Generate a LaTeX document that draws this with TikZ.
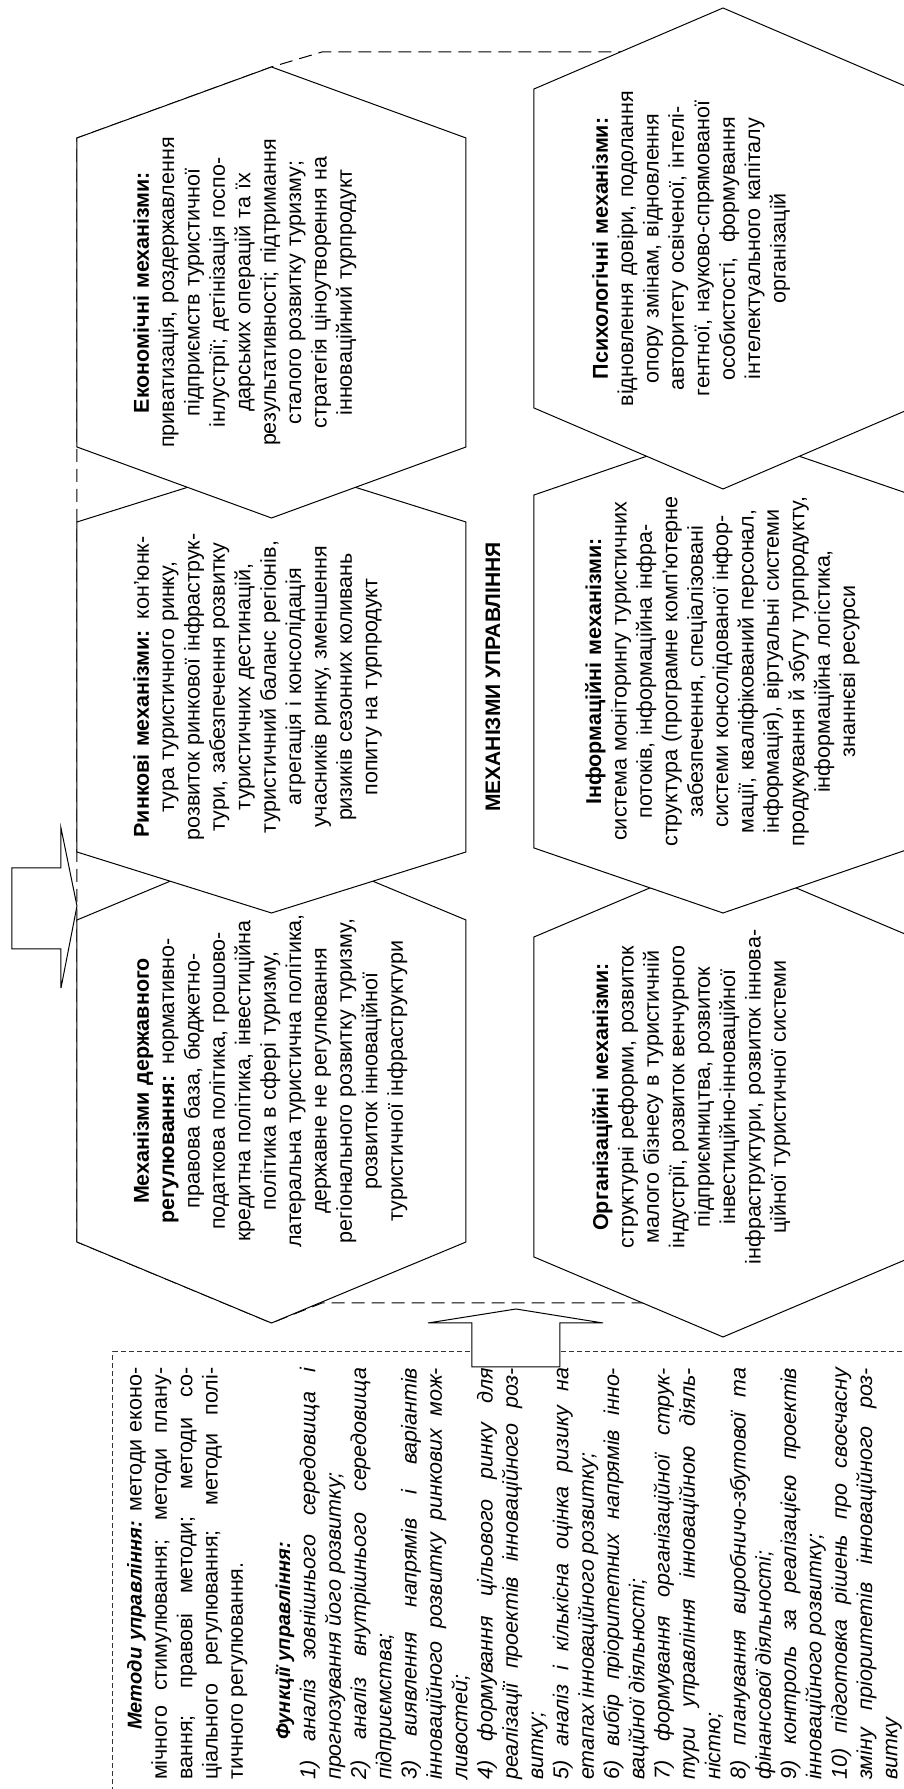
\documentclass[tikz,border=0pt]{standalone}
\usepackage{fontspec}
\setmainfont{Liberation Sans}
\hyphenpenalty=10000
\hbadness=10000

\tikzset{
	hexline/.style={draw=black, fill=white, line width=1pt},
	hexframe/.style={draw=black, line width=1pt, dash pattern=on 13pt off 7pt},
	funcframe/.style={draw=black!80, line width=1pt, dash pattern=on 5pt off 3pt},
	blockarrow/.style={draw=black, fill=white, line width=1pt},
	hextext/.style={text width=400pt, align=center, anchor=north, inner sep=0pt, font=\fontsize{21.5}{25.4}\selectfont},
	functext/.style={text width=412pt, align=justify, anchor=north west, inner sep=0pt, font=\fontsize{21.5}{25.3}\selectfont},
	titletext/.style={inner sep=0pt, font=\fontsize{21}{25}\selectfont\bfseries}
}
% centre x, centre y, half top edge, half width, half height
\newcommand{\hexcell}[5]{\filldraw[hexline] ({#1-#4},{#2}) -- ({#1-#3},{#2+#5}) -- ({#1+#3},{#2+#5}) -- ({#1+#4},{#2}) -- ({#1+#3},{#2-#5}) -- ({#1-#3},{#2-#5}) -- cycle;}
\newcommand{\boxhead}[1]{{\fontsize{20}{25.3}\selectfont\bfseries\itshape #1}}

\begin{document}
\begin{tikzpicture}[x=1pt, y=1pt, rotate=90, transform shape]
		\useasboundingbox (0,0) rectangle (1789,904);
		\clip (0,0) rectangle (1789,904);
		% Rahmen um die Mechanismen
		\draw [hexframe] (547,827) -- (1651,827) -- (1722,632.5) -- (1737,582) -- (1737,240) -- (1663,-5) -- (560,-5) -- (486,240) -- (486,582) -- (466,632.5) -- cycle;
		% obere Reihe
		\hexcell{708}{632.5}{161}{242}{194.5}
		\hexcell{1102}{632.5}{165}{226}{194.5}
		\hexcell{1496.5}{632.5}{154.5}{225.5}{194.5}
		% untere Reihe
		\hexcell{692}{181}{160}{240}{189}
		\hexcell{1117.5}{181}{176.5}{241.5}{189}
		\hexcell{1540.5}{181}{159.5}{240.5}{189}
		% Texte
		\node [hextext] (state) at (708,771) {\textbf{Механізми державного}\\
			\textbf{регулювання:} нормативно-\\
			правова база, бюджетно-\\
			податкова політика, грошово-\\
			кредитна політика, інвестиційна\\
			політика в сфері туризму,\\
			латеральна туристична політика,\\
			державне не регулювання\\
			регіонального розвитку туризму,\\
			розвиток інноваційної\\
			туристичної інфраструктури};
		\node [hextext] (market) at (1102,771) {\textbf{Ринкові механізми:} кон’юнк-\\
			тура туристичного ринку,\\
			розвиток ринкової інфраструк-\\
			тури, забезпечення розвитку\\
			туристичних дестинацій,\\
			туристичний баланс регіонів,\\
			агрегація і консолідація\\
			учасників ринку, зменшення\\
			ризиків сезонних коливань\\
			попиту на турпродукт};
		\node [hextext] (econ) at (1496.5,771) {\textbf{Економічні механізми:}\\
			приватизація, роздержавлення\\
			підприємств туристичної\\
			інлустрії; детінізація госпо-\\
			дарських операцій та їх\\
			результативності; підтримання\\
			сталого розвитку туризму;\\
			стратегія ціноутворення на\\
			інноваційний турпродукт};
		\node [hextext] (org) at (692,312) {\textbf{Організаційні механізми:}\\
			структурні реформи, розвиток\\
			малого бізнесу в туристичній\\
			індустрії, розвиток венчурного\\
			підприємництва, розвиток\\
			інвестиційно-інноваційної\\
			інфраструктури, розвиток іннова-\\
			ційної туристичної системи};
		\node [hextext] (info) at (1117.5,319) {\textbf{Інформаційні механізми:}\\
			система моніторингу туристичних\\
			потоків, інформаційна інфра-\\
			структура (програмне комп’ютерне\\
			забезпечення, спеціалізовані\\
			системи консолідованої інфор-\\
			мації, кваліфікований персонал,\\
			інформація), віртуальні системи\\
			продукування й збуту турпродукту,\\
			інформаційна логістика,\\
			знаннєві ресурси};
		\node [hextext] (psych) at (1540.5,312) {\textbf{Психологічні механізми:}\\
			відновлення довіри, подолання\\
			опору змінам, відновлення\\
			авторитету освіченої, інтелі-\\
			гентної, науково-спрямованої\\
			особистості,\ \ формування\\
			інтелектуального капіталу\\
			організацій};
		\node [titletext] (mech) at (1112,411) {МЕХАНІЗМИ УПРАВЛІННЯ};
		% Methoden und Funktionen
		\draw [funcframe] (-10,-10) rectangle (437,791);
		\node [functext] (methods) at (9,777) {\setlength{\parindent}{0pt}%
			\makebox[\linewidth][s]{\hspace*{50pt}\boxhead{Методи} \boxhead{управління:} методи еконо-}\par
			мічного стимулювання; методи плану-\linebreak
			вання; правові методи; методи со-\linebreak
			ціального регулювання; методи полі-\linebreak
			тичного регулювання.\par
			\vspace{22pt}
			\hspace*{40pt}\boxhead{Функції управління:}\par
			\itshape
			1) аналіз зовнішнього середовища і\linebreak прогнозування його розвитку;\par
			2) аналіз внутрішнього середовища\linebreak підприємства;\par
			3) виявлення напрямів і варіантів\linebreak інноваційного розвитку ринкових мож-\linebreak ливостей;\par
			4) формування цільового ринку для\linebreak реалізації проектів інноваційного роз-\linebreak витку;\par
			5) аналіз і кількісна оцінка ризику на\linebreak етапах інноваційного розвитку;\par
			6) вибір пріоритетних напрямів інно-\linebreak ваційної діяльності;\par
			7) формування організаційної струк-\linebreak тури управління інноваційною діяль-\linebreak ністю;\par
			8) планування виробничо-збутової та\linebreak фінансової діяльності;\par
			9) контроль за реалізацією проектів\linebreak інноваційного розвитку;\par
			10) підготовка рішень про своєчасну\linebreak зміну пріоритетів інноваційного роз-\linebreak витку};
		% Pfeile
		\filldraw [blockarrow] (840,892) -- (921,892) -- (921,843) -- (961,843) -- (883,827) -- (801,843) -- (840,843) -- cycle;
		\filldraw [blockarrow] (422,344) -- (422,432) -- (466,432) -- (466,476) -- (480,388) -- (466,301) -- (466,344) -- cycle;
\end{tikzpicture}
\end{document}
